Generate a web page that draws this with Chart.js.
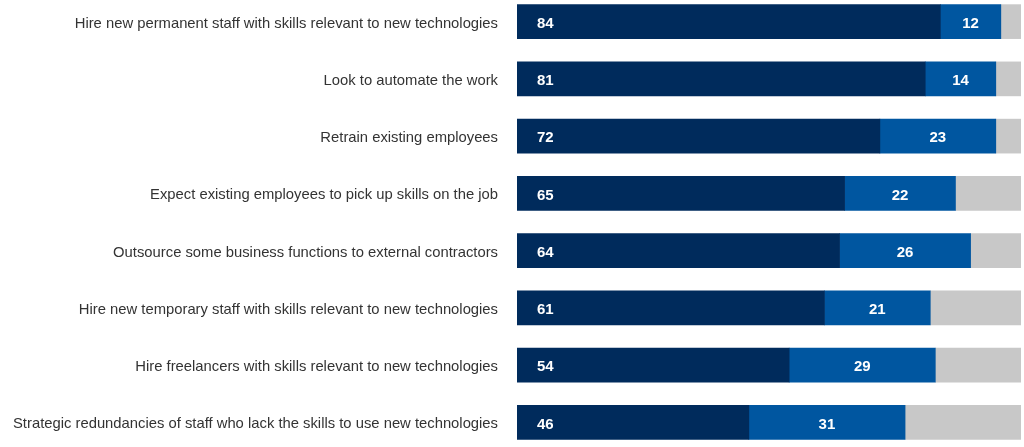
<!DOCTYPE html>
<html>
<head>
<meta charset="utf-8">
<script src="https://cdn.jsdelivr.net/npm/chart.js@4.4.1/dist/chart.umd.min.js"></script>
<style>
  html, body { margin: 0; padding: 0; background: #fff; }
  #wrap { position: relative; width: 1024px; height: 447px; overflow: hidden; }
  #wrap canvas { position: absolute; left: 0; top: -7px; }
</style>
</head>
<body>
<div id="wrap"><canvas id="barChart" width="1024" height="458"></canvas></div>
<script>
const categories = [
    "Hire new permanent staff with skills relevant to new technologies",
    "Look to automate the work",
    "Retrain existing employees",
    "Expect existing employees to pick up skills on the job",
    "Outsource some business functions to external contractors",
    "Hire new temporary staff with skills relevant to new technologies",
    "Hire freelancers with skills relevant to new technologies",
    "Strategic redundancies of staff who lack the skills to use new technologies"
];
const likely = [84, 81, 72, 65, 64, 61, 54, 46];
const somewhat = [12, 14, 23, 22, 26, 21, 29, 31];
const other = [4, 5, 5, 13, 10, 18, 17, 23];

const valueLabels = {
    id: 'valueLabels',
    afterDatasetsDraw(chart) {
        const ctx = chart.ctx;
        ctx.save();
        ctx.fillStyle = '#ffffff';
        ctx.font = 'bold 15px "Liberation Sans", Arial, sans-serif';
        ctx.textBaseline = 'middle';
        chart.getDatasetMeta(0).data.forEach(function(bar, i) {
            ctx.textAlign = 'left';
            ctx.fillText(likely[i], bar.base + 20, bar.y + 2);
        });
        chart.getDatasetMeta(1).data.forEach(function(bar, i) {
            ctx.textAlign = 'center';
            ctx.fillText(somewhat[i], (bar.x + bar.base) / 2, bar.y + 2);
        });
        ctx.restore();
    }
};

const ctx = document.getElementById('barChart').getContext('2d');
new Chart(ctx, {
    type: 'bar',
    data: {
        labels: categories,
        datasets: [
            { label: 'Likely', data: likely, backgroundColor: '#002b5c', barThickness: 34 },
            { label: 'Somewhat', data: somewhat, backgroundColor: '#0056a0', barThickness: 34 },
            { label: 'Other', data: other, backgroundColor: '#c8c8c8', barThickness: 34 }
        ]
    },
    options: {
        indexAxis: 'y',
        responsive: false,
        animation: false,
        layout: { padding: { left: 0, right: 3, top: 0, bottom: 0 } },
        plugins: {
            legend: { display: false },
            tooltip: { enabled: false }
        },
        scales: {
            x: {
                stacked: true,
                min: 0,
                max: 100,
                display: false
            },
            y: {
                stacked: true,
                grid: { display: false, drawTicks: false },
                border: { display: false },
                afterFit: function(scale) {
                    scale.width = 517;
                    scale.paddingTop = 0;
                    scale.paddingBottom = 0;
                },
                ticks: {
                    padding: 19,
                    labelOffset: 2,
                    color: '#333333',
                    font: { family: '"Liberation Sans", Arial, sans-serif', size: 14.8 }
                }
            }
        }
    },
    plugins: [valueLabels]
});
</script>
</body>
</html>
